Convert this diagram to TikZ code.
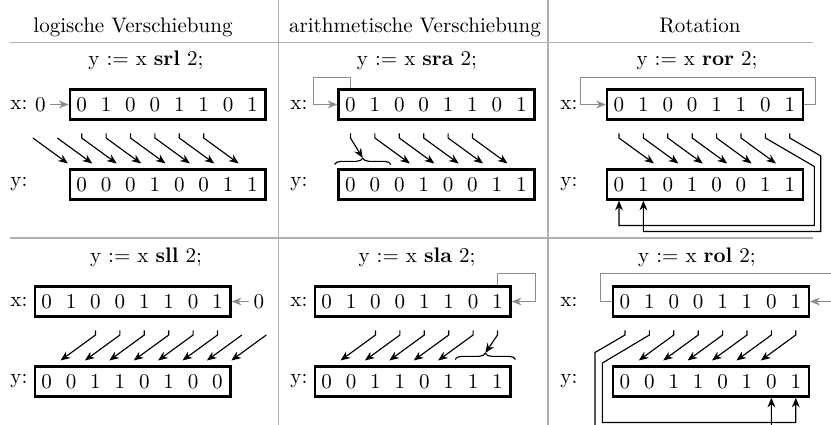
\documentclass[tikz,border=0pt]{standalone}
\usetikzlibrary{arrows.meta, calc, decorations.pathreplacing}
\definecolor{rulegray}{HTML}{B0B0B0}
\definecolor{feedgray}{HTML}{8A8A8A}

% two 8-bit registers of one panel: digits <p>-x1..<p>-x8 and <p>-y1..<p>-y8
\newcommand\bitregs[3]{%
  \foreach \b [count=\i] in {#2}
    \node[bit] (#1-x\i) at ({(\i-1)*24.4},0) {\b};
  \foreach \b [count=\i] in {#3}
    \node[bit] (#1-y\i) at ({(\i-1)*24.4},80) {\b};
  \node[reg] (#1-xb) at (86,0) {};
  \node[reg] (#1-yb) at (86,80) {};
}

\begin{document}
\begin{tikzpicture}[
    x=0.475pt, y=-0.475pt,
    >={Stealth[length=4.6pt,width=3.7pt]},
    bit/.style={inner sep=0pt},
    reg/.style={rectangle, draw=black, line width=1.2pt,
        minimum width=93pt, minimum height=14.2pt, inner sep=0pt},
    lab/.style={inner sep=0pt, anchor=west},
    head/.style={anchor=base},
    rule/.style={draw=rulegray, line width=0.8pt},
    mov/.style={->, line width=0.55pt},
    feed/.style={->, color=feedgray, line width=0.6pt},
    brace/.style={decorate, decoration={brace, amplitude=3pt}, line width=0.55pt}
]
\useasboundingbox (0,0) rectangle (831,425);
\clip (0,0) rectangle (831,425);

% table rules
\draw[rule] (10,42.5) -- (813,42.5);
\draw[rule] (10,238) -- (813,238);
\draw[rule] (278.5,0) -- (278.5,425);
\draw[rule] (548,0) -- (548,425);

% column heads
\node[head] (h1) at (133,33) {logische Verschiebung};
\node[head] (h2) at (415,33) {arithmetische Verschiebung};
\node[head] (h3) at (700,33) {Rotation};

% operations
\node[head] (srl-t) at (146,66) {y := x \textbf{srl} 2;};
\node[head] (sra-t) at (417,66) {y := x \textbf{sra} 2;};
\node[head] (ror-t) at (697,66) {y := x \textbf{ror} 2;};
\node[head] (sll-t) at (146,263) {y := x \textbf{sll} 2;};
\node[head] (sla-t) at (417,263) {y := x \textbf{sla} 2;};
\node[head] (rol-t) at (697,263) {y := x \textbf{rol} 2;};

% registers
\begin{scope}[shift={(81.7,104.5)}]
  \bitregs{srl}{0,1,0,0,1,1,0,1}{0,0,0,1,0,0,1,1}
\end{scope}
\begin{scope}[shift={(350.5,104.5)}]
  \bitregs{sra}{0,1,0,0,1,1,0,1}{0,0,0,1,0,0,1,1}
\end{scope}
\begin{scope}[shift={(619,104.5)}]
  \bitregs{ror}{0,1,0,0,1,1,0,1}{0,1,0,1,0,0,1,1}
\end{scope}
\begin{scope}[shift={(46.7,301.5)}]
  \bitregs{sll}{0,1,0,0,1,1,0,1}{0,0,1,1,0,1,0,0}
\end{scope}
\begin{scope}[shift={(326.7,301.5)}]
  \bitregs{sla}{0,1,0,0,1,1,0,1}{0,0,1,1,0,1,1,1}
\end{scope}
\begin{scope}[shift={(625,301.5)}]
  \bitregs{rol}{0,1,0,0,1,1,0,1}{0,0,1,1,0,1,0,1}
\end{scope}

% x: and y: labels
\foreach \p/\lx/\ly in {srl/10/104.5, sra/290/104.5, ror/560/104.5,
                        sll/10/301.5, sla/290/301.5, rol/560/301.5} {
  \node[lab] (\p-xl) at (\lx,\ly) {x:};
  \node[lab] (\p-yl) at (\lx,\ly+80) {y:};
}

% srl
\node[bit] (srl-in) at (40.5,104.5) {0};
\draw[feed, shorten <=2pt] (srl-in) -- (srl-xb);
\foreach \i in {1,...,6}
  \draw[mov] (srl-x\i) ++(0,29) -- ++(0,4.5) -- ++(35,25.5);
\foreach \i in {-1,0}
  \draw[mov] ($(srl-x1)+({(\i-1)*24.4},33.5)$) -- ++(35,25.5);

% sra
\draw[feed] (sra-x1 |- sra-xb.north) -- ++(0,-11) -| ($(sra-xb.west)+(-24,0)$) -- (sra-xb.west);
\foreach \i in {2,...,6}
  \draw[mov] (sra-x\i) ++(0,29) -- ++(0,4.5) -- ++(35,25.5);
\draw[brace] ($(sra-y1)+(-16,-20)$) -- ($(sra-y2)+(16,-20)$);
\coordinate (sra-tip) at ($(sra-y1)!0.5!(sra-y2)+(0,-26.5)$);
\draw[mov] (sra-x1) ++(0,29) -- ++(0,4.5) -- (sra-tip);

% ror
\draw[feed] (ror-xb.east) -- ++(11,0) |- ($(ror-xb.north west)+(-25,-11)$) |- (ror-xb.west);
\foreach \i in {1,...,6}
  \draw[mov] (ror-x\i) ++(0,29) -- ++(0,4.5) -- ++(35,25.5);
\draw[mov] (ror-x7) ++(0,29) -- ++(0,4.5) -- ++(49,28.5) |- ($(ror-y1)+(0,41)$) -- (ror-y1 |- ror-yb.south);
\draw[mov] (ror-x8) ++(0,29) -- ++(0,4.5) -- ++(31,18) |- ($(ror-y2)+(0,47)$) -- (ror-y2 |- ror-yb.south);

% sll
\node[bit] (sll-in) at (259,301.5) {0};
\draw[feed, shorten <=2pt] (sll-in) -- (sll-xb);
\foreach \i in {3,...,8}
  \draw[mov] (sll-x\i) ++(0,29) -- ++(0,4.5) -- ++(-35,25.5);
\foreach \i in {9,10}
  \draw[mov] ($(sll-x1)+({(\i-1)*24.4},33.5)$) -- ++(-35,25.5);

% sla
\draw[feed] (sla-x8 |- sla-xb.north) -- ++(0,-12) -| ($(sla-xb.east)+(24,0)$) -- (sla-xb.east);
\foreach \i in {3,...,7}
  \draw[mov] (sla-x\i) ++(0,29) -- ++(0,4.5) -- ++(-35,25.5);
\draw[brace] ($(sla-y7)+(-18,-22)$) -- ($(sla-y8)+(18,-22)$);
\coordinate (sla-tip) at ($(sla-y7)!0.5!(sla-y8)+(0,-28.5)$);
\draw[mov] (sla-x8) ++(0,29) -- ++(0,4.5) -- (sla-tip);

% rol
\draw[feed] (rol-xb.west) -- ++(-11,0) |- ($(rol-xb.north east)+(25,-12)$) |- (rol-xb.east);
\foreach \i in {3,...,8}
  \draw[mov] (rol-x\i) ++(0,29) -- ++(0,4.5) -- ++(-35,25.5);
\draw[mov] (rol-x2) ++(0,29) -- ++(0,4.5) -- ++(-47,28) |- ($(rol-y8)+(0,41)$) -- (rol-y8 |- rol-yb.south);
\draw[mov] (rol-x1) ++(0,29) -- ++(0,4.5) -- ++(-30,17.5) |- ($(rol-y7)+(0,47)$) -- (rol-y7 |- rol-yb.south);

\end{tikzpicture}
\end{document}
